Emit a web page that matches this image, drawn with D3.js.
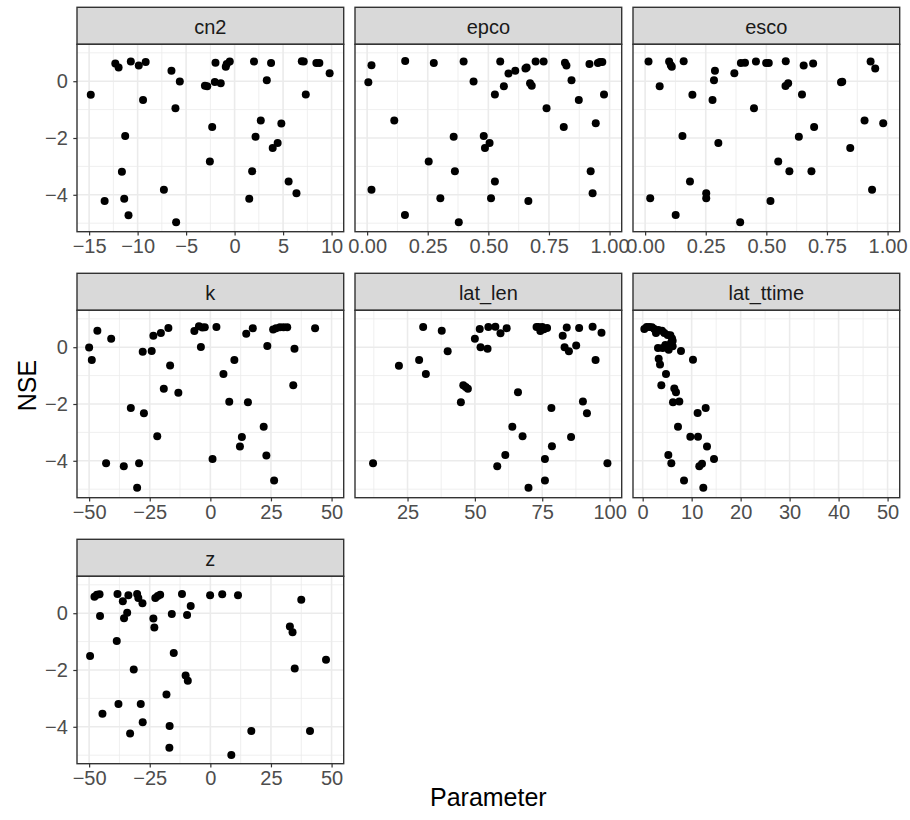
<!DOCTYPE html>
<html>
<head>
<meta charset="utf-8">
<script src="https://cdn.jsdelivr.net/npm/d3@7"></script>
<style>
  body { margin: 0; background: #fff; }
  text { font-family: "Liberation Sans", Arial, sans-serif; }
</style>
</head>
<body>
<svg width="910" height="820"></svg>
<script>
// facet names and parameter ranges
const panels = ["cn2", "epco", "esco", "k", "lat_len", "lat_ttime", "z"];
const xMin = [-15, 0, 0, -50, 10, 0.5, -50];
const xMax = [10, 1, 1, 50, 100, 50, 50];
const xTicks = [
  [-15, -10, -5, 0, 5, 10],
  [0, 0.25, 0.5, 0.75, 1],
  [0, 0.25, 0.5, 0.75, 1],
  [-50, -25, 0, 25, 50],
  [25, 50, 75, 100],
  [0, 10, 20, 30, 40, 50],
  [-50, -25, 0, 25, 50]
];
const xFormats = ["d", ".2f", ".2f", "d", "d", "d", "d"];
const yLimits = [-5, 1];
const yTicks = [-4, -2, 0];

// points [parameter, NSE] per panel
const cn2 = [[-14.83,-0.48],[-13.4,-4.22],[-12.3,0.62],[-11.96,0.48],[-10.7,0.69],[-9.88,0.55],[-9.17,0.68],
  [-11.28,-1.93],[-11.62,-3.19],[-11.38,-4.14],[-10.94,-4.72],[-9.44,-0.66],[-6.51,0.37],[-5.65,-0.01],
  [-6.1,-0.95],[-7.29,-3.82],[-6.03,-4.97],[-3.06,-0.16],[-2.82,-0.18],[-2.04,-0.03],[-1.43,-0.07],
  [-1.97,0.65],[-0.91,0.51],[-0.81,0.61],[-0.5,0.69],[-2.31,-1.61],[-2.55,-2.83],[2.0,0.69],[3.76,0.64],
  [3.32,0.03],[2.7,-1.38],[4.82,-1.49],[2.16,-1.96],[3.93,-2.35],[4.44,-2.18],[1.81,-3.17],[1.51,-4.14],
  [5.57,-3.53],[6.38,-3.95],[6.93,0.70],[7.13,0.69],[7.34,-0.47],[8.43,0.64],[8.74,0.64],[9.8,0.28]];
const epco = [[0.005,-0.04],[0.018,0.56],[0.018,-3.82],[0.112,-1.38],[0.157,0.71],[0.156,-4.71],[0.275,0.64],
  [0.254,-2.83],[0.302,-4.12],[0.357,-1.96],[0.362,-3.17],[0.378,-4.97],[0.398,0.69],[0.439,-0.01],
  [0.481,-1.93],[0.505,-2.18],[0.486,-2.35],[0.511,-4.12],[0.527,-0.47],[0.527,-3.53],[0.549,0.69],
  [0.564,-0.18],[0.583,0.27],[0.611,0.37],[0.653,0.45],[0.658,0.48],[0.672,-0.07],[0.679,-0.16],
  [0.665,-4.22],[0.695,0.69],[0.728,0.69],[0.74,-0.95],[0.816,0.65],[0.822,0.55],[0.811,-1.61],
  [0.843,0.03],[0.873,-0.66],[0.917,0.61],[0.922,-3.17],[0.93,-3.95],[0.943,-1.48],[0.952,0.64],
  [0.96,0.68],[0.97,0.68],[0.977,-0.47]];
const esco = [[0.014,0.69],[0.021,-4.12],[0.06,-0.18],[0.099,0.69],[0.106,0.56],[0.11,0.51],[0.126,-4.71],
  [0.159,0.70],[0.154,-1.93],[0.185,-3.53],[0.195,-0.48],[0.252,-3.95],[0.252,-4.12],[0.278,-0.66],
  [0.284,0.03],[0.288,0.37],[0.302,-2.18],[0.368,0.28],[0.395,0.64],[0.412,0.65],[0.392,-4.97],
  [0.449,-0.95],[0.457,0.69],[0.499,0.64],[0.51,0.64],[0.517,-4.22],[0.549,-2.83],[0.58,0.70],
  [0.579,-0.17],[0.59,-0.07],[0.595,-3.17],[0.634,-1.96],[0.647,-0.47],[0.654,0.55],[0.693,0.62],
  [0.697,-1.61],[0.686,-3.17],[0.808,-0.04],[0.813,-0.02],[0.846,-2.35],[0.905,-1.38],[0.93,0.69],
  [0.949,0.45],[0.936,-3.82],[0.982,-1.48]];
const k = [[-50,-0.01],[-48.9,-0.45],[-46.6,0.58],[-40.9,0.30],[-43.0,-4.09],[-35.7,-4.19],[-32.8,-2.14],
  [-30.2,-4.95],[-29.4,-4.09],[-27.9,-0.16],[-27.4,-2.33],[-24.2,-0.13],[-23.5,0.40],[-21.9,-3.14],
  [-20.4,0.50],[-19.2,-1.46],[-17.3,0.68],[-16.6,-0.64],[-13.2,-1.60],[-6.6,0.57],[-4.7,0.74],[-3.9,0.01],
  [-3.3,0.69],[-2.3,0.70],[2.5,0.71],[0.9,-3.94],[5.4,-0.94],[7.8,-1.92],[9.9,-0.45],[12.2,-3.50],
  [13.0,-3.16],[14.8,0.47],[15.5,-1.94],[17.5,0.67],[22.0,-2.80],[23.1,-3.81],[23.5,0.04],[26.3,-4.69],
  [25.9,0.62],[27.1,0.67],[28.7,0.70],[30.2,0.70],[31.7,0.70],[34.7,-0.05],[34.2,-1.34],[43.2,0.67]];
const lat_len = [[12.2,-4.09],[21.8,-0.65],[29.3,-0.45],[30.8,0.71],[31.8,-0.94],[37.7,0.58],[39.9,-0.14],
  [45.7,-1.34],[46.6,-1.40],[47.4,-1.46],[44.8,-1.94],[50.0,0.30],[51.8,0.64],[52.1,0.0],[54.7,-0.05],
  [55.0,0.71],[57.6,0.72],[59.5,0.49],[61.8,0.67],[58.3,-4.19],[61.3,-3.80],[63.9,-2.80],[66.0,-1.59],
  [67.7,-3.14],[69.9,-4.95],[72.9,0.71],[73.6,0.71],[74.3,0.57],[75.0,0.71],[75.6,0.63],[76.8,0.68],
  [76.0,-3.94],[76.0,-4.69],[78.4,-2.14],[78.6,-3.49],[82.6,0.40],[83.3,0.0],[84.1,0.69],[84.9,-0.14],
  [85.7,-3.16],[87.6,0.06],[88.7,0.68],[90.1,-1.91],[91.6,-2.33],[93.7,0.72],[94.8,-0.45],[97.0,0.51],
  [99.2,-4.09]];
const lat_ttime = [[0.34,0.64],[0.82,0.71],[1.36,0.71],[1.9,0.70],[2.38,0.64],[2.72,0.50],[3.2,0.61],
  [3.95,0.58],[4.42,0.50],[5.1,0.43],[5.65,0.42],[5.99,0.31],[6.12,0.23],[5.78,0.15],[4.63,0.08],
  [3.13,-0.03],[4.08,-0.03],[5.31,-0.09],[6.12,0.03],[7.82,-0.13],[10.27,-0.44],[3.27,-0.41],
  [3.54,-0.61],[4.76,-0.94],[3.81,-1.34],[6.46,-1.45],[6.8,-1.59],[6.19,-1.94],[7.48,-1.91],
  [12.86,-2.14],[11.22,-2.32],[7.21,-2.80],[9.73,-3.15],[11.29,-3.15],[13.13,-3.50],[14.56,-3.94],
  [5.24,-3.80],[5.85,-4.09],[11.56,-4.19],[12.11,-4.10],[8.44,-4.69],[12.38,-4.95]];
const z = [[-49.6,-1.51],[-47.8,0.58],[-46.8,0.65],[-45.7,0.67],[-45.5,-0.10],[-44.5,-3.54],[-38.3,0.68],
  [-38.6,-0.98],[-37.9,-3.20],[-36.1,0.42],[-35.6,-0.18],[-34.3,0.02],[-33.8,0.63],[-33.1,-4.24],
  [-31.6,-1.98],[-30.2,0.68],[-29.7,0.54],[-28.7,-3.20],[-28.0,0.35],[-27.9,-3.84],[-23.5,-0.19],
  [-23.1,-0.50],[-22.7,0.54],[-21.7,0.61],[-20.7,0.65],[-18.1,-2.86],[-16.8,-3.97],[-16.9,-4.74],
  [-15.9,-0.03],[-15.1,-1.40],[-11.7,0.68],[-10.2,-2.19],[-9.3,-2.38],[-9.6,-0.06],[-8.1,0.25],
  [-0.1,0.63],[4.9,0.67],[8.65,-4.99],[11.4,0.63],[16.9,-4.15],[32.8,-0.47],[33.9,-0.67],[34.8,-1.95],
  [37.5,0.47],[41.1,-4.15],[47.7,-1.64]];
const panelData = [cn2, epco, esco, k, lat_len, lat_ttime, z];

const svg = d3.select("svg");
const leftX = 77, topY = 7.3;
const panelW = 266.7, gapX = 11.3;
const stripH = 37, panelH = 187.4, rowStep = 266;
const tickFont = "20px";

// ggplot-like 5% expansion
function expand(a, b) { const r = b - a; return [a - 0.05 * r, b + 0.05 * r]; }

const y = d3.scaleLinear().domain(expand(yLimits[0], yLimits[1])).range([panelH, 0]);
const yMinor = [-5, -3, -1, 1];

function minorOf(ticks, dom) {
  const step = ticks[1] - ticks[0];
  const out = [];
  for (let v = ticks[0] - step / 2; v <= dom[1]; v += step) {
    if (v >= dom[0]) out.push(v);
  }
  return out;
}

panels.forEach(function(name, i) {
  const col = i % 3, row = Math.floor(i / 3);
  const gx = leftX + col * (panelW + gapX);
  const gy = topY + row * rowStep;
  const dom = expand(xMin[i], xMax[i]);
  const x = d3.scaleLinear().domain(dom).range([0, panelW]);

  const g = svg.append("g").attr("transform", "translate(" + gx + "," + gy + ")");

  // strip
  g.append("rect")
    .attr("width", panelW).attr("height", stripH)
    .attr("fill", "#D9D9D9").attr("stroke", "#333333").attr("stroke-width", 1.4);
  g.append("text")
    .attr("x", panelW / 2).attr("y", stripH / 2)
    .attr("dy", "0.4em")
    .attr("text-anchor", "middle")
    .attr("fill", "#1A1A1A")
    .style("font-size", tickFont)
    .text(name);

  const p = g.append("g").attr("transform", "translate(0," + stripH + ")");

  // grid
  p.selectAll(".xminor").data(minorOf(xTicks[i], dom)).join("line")
    .attr("x1", d => x(d)).attr("x2", d => x(d))
    .attr("y1", 0).attr("y2", panelH)
    .attr("stroke", "#EBEBEB").attr("stroke-width", 0.8);
  p.selectAll(".yminor").data(yMinor).join("line")
    .attr("x1", 0).attr("x2", panelW)
    .attr("y1", d => y(d)).attr("y2", d => y(d))
    .attr("stroke", "#EBEBEB").attr("stroke-width", 0.8);
  p.selectAll(".xmajor").data(xTicks[i]).join("line")
    .attr("x1", d => x(d)).attr("x2", d => x(d))
    .attr("y1", 0).attr("y2", panelH)
    .attr("stroke", "#EBEBEB").attr("stroke-width", 1.6);
  p.selectAll(".ymajor").data(yTicks).join("line")
    .attr("x1", 0).attr("x2", panelW)
    .attr("y1", d => y(d)).attr("y2", d => y(d))
    .attr("stroke", "#EBEBEB").attr("stroke-width", 1.6);

  // points
  p.selectAll("circle").data(panelData[i]).join("circle")
    .attr("cx", d => x(d[0]))
    .attr("cy", d => y(d[1]))
    .attr("r", 4)
    .attr("fill", "#000");

  // border
  p.append("rect")
    .attr("width", panelW).attr("height", panelH)
    .attr("fill", "none").attr("stroke", "#333333").attr("stroke-width", 1.4);

  // x axis
  const xa = p.append("g")
    .attr("transform", "translate(0," + panelH + ")")
    .call(d3.axisBottom(x).tickValues(xTicks[i]).tickFormat(d3.format(xFormats[i])).tickSize(3.7).tickPadding(3.6));
  xa.select(".domain").remove();
  xa.selectAll(".tick line").attr("stroke", "#333333").attr("stroke-width", 1.2);
  xa.selectAll(".tick text")
    .attr("fill", "#4D4D4D")
    .style("font-size", tickFont)
    .style("font-family", "'Liberation Sans', Arial, sans-serif");

  // y axis on the first column only
  if (col === 0) {
    const ya = p.append("g")
      .call(d3.axisLeft(y).tickValues(yTicks).tickFormat(d3.format("d")).tickSize(3.7).tickPadding(5.5));
    ya.select(".domain").remove();
    ya.selectAll(".tick line").attr("stroke", "#333333").attr("stroke-width", 1.2);
    ya.selectAll(".tick text")
      .attr("fill", "#4D4D4D")
      .style("font-size", tickFont)
      .style("font-family", "'Liberation Sans', Arial, sans-serif");
  }
});

// axis titles
svg.append("text")
  .attr("x", leftX + (3 * panelW + 2 * gapX) / 2)
  .attr("y", 806)
  .attr("text-anchor", "middle")
  .style("font-size", "25px")
  .text("Parameter");

svg.append("text")
  .attr("transform", "translate(27," + (topY + (2 * rowStep + stripH + panelH) / 2) + ") rotate(-90)")
  .attr("text-anchor", "middle")
  .attr("dy", "0.36em")
  .style("font-size", "25px")
  .text("NSE");
</script>
</body>
</html>
